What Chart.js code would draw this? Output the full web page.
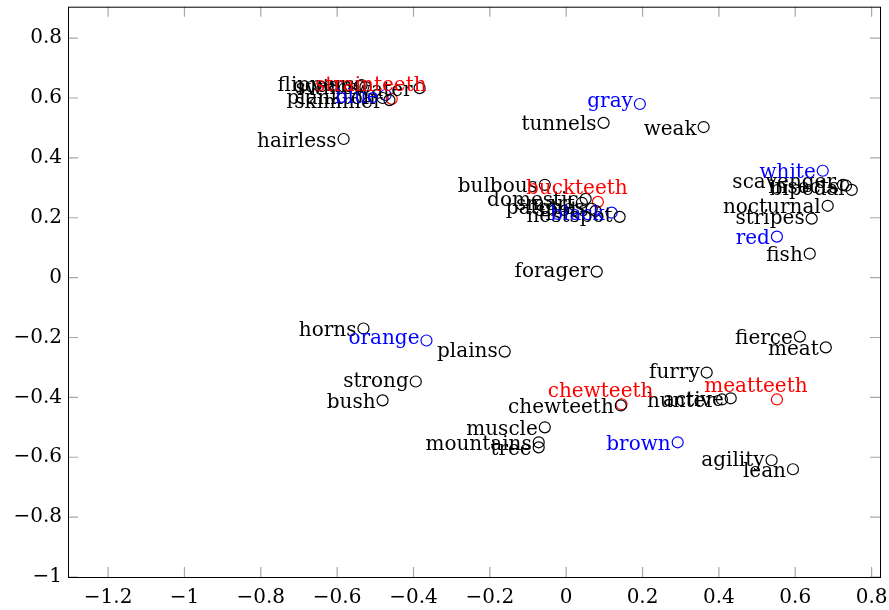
<!DOCTYPE html>
<html>
<head>
<meta charset="utf-8">
<script src="https://cdn.jsdelivr.net/npm/chart.js@4.4.0/dist/chart.umd.min.js"></script>
<style>
html, body { margin: 0; padding: 0; background: #fff; }
</style>
</head>
<body>
<canvas id="chart" width="889" height="610"></canvas>
<script>
// attribute words (black)
const wordNames = ["hairless", "flippers", "ocean", "swims", "plankton", "skimmer", "water",
  "tunnels", "weak", "bulbous", "smart", "domestic", "patches", "spots", "nestspot", "forager",
  "scavenger", "insects", "bipedal", "nocturnal", "stripes", "fish",
  "horns", "plains", "strong", "bush", "muscle", "mountains", "tree",
  "fierce", "meat", "furry", "chewteeth", "hunter", "active", "agility", "lean"];
const wordX = [-0.583, -0.536, -0.541, -0.526, -0.481, -0.463, -0.384,
  0.098, 0.36, -0.056, 0.041, 0.051, 0.067, 0.077, 0.14, 0.08,
  0.725, 0.733, 0.748, 0.685, 0.643, 0.638,
  -0.531, -0.161, -0.394, -0.481, -0.056, -0.072, -0.072,
  0.612, 0.68, 0.368, 0.143, 0.408, 0.431, 0.538, 0.594];
const wordY = [0.463, 0.643, 0.64, 0.637, 0.60, 0.593, 0.633,
  0.517, 0.503, 0.31, 0.25, 0.263, 0.23, 0.223, 0.203, 0.02,
  0.31, 0.307, 0.293, 0.24, 0.197, 0.08,
  -0.17, -0.247, -0.347, -0.41, -0.5, -0.55, -0.567,
  -0.197, -0.233, -0.317, -0.427, -0.407, -0.403, -0.61, -0.64];

// colour words (blue)
const colorNames = ["blue", "gray", "black", "white", "red", "orange", "brown"];
const colorX = [-0.473, 0.193, 0.119, 0.672, 0.552, -0.366, 0.292];
const colorY = [0.61, 0.58, 0.217, 0.357, 0.137, -0.21, -0.55];

// teeth words (red)
const teethNames = ["strainteeth", "buckteeth", "chewteeth", "meatteeth"];
const teethX = [-0.457, 0.083, 0.145, 0.552];
const teethY = [0.597, 0.253, -0.423, -0.407];

const xTicks = [-1.2, -1, -0.8, -0.6, -0.4, -0.2, 0, 0.2, 0.4, 0.6, 0.8];
const yTicks = [-1, -0.8, -0.6, -0.4, -0.2, 0, 0.2, 0.4, 0.6, 0.8];

const FONT = '"DejaVu Serif", serif';

function pts(xs, ys) {
  return xs.map((x, i) => ({ x: x, y: ys[i] }));
}

function fmt(v) {
  if (Math.abs(v) < 1e-9) return '0';
  return String(Math.round(v * 10) / 10).replace('-', '\u2212');
}

const labelPlugin = {
  id: 'labels',
  afterDatasetsDraw(chart) {
    const ctx = chart.ctx;
    ctx.save();
    ctx.font = '20px ' + FONT;
    chart.data.datasets.forEach((ds, di) => {
      const meta = chart.getDatasetMeta(di);
      meta.data.forEach((el, i) => {
        const txt = ds.names[i];
        const m = ctx.measureText(txt);
        const asc = m.actualBoundingBoxAscent, desc = m.actualBoundingBoxDescent;
        ctx.fillStyle = ds.borderColor;
        if (ds.above) {
          ctx.textAlign = 'center';
          ctx.fillText(txt, el.x - 21, el.y - 15 + (asc - desc) / 2);
        } else {
          ctx.textAlign = 'right';
          ctx.fillText(txt, el.x - 7, el.y + (asc - desc) / 2);
        }
      });
    });
    ctx.restore();
  }
};

const framePlugin = {
  id: 'frame',
  afterDraw(chart) {
    const ctx = chart.ctx;
    const a = chart.chartArea;
    const xs = chart.scales.x, ys = chart.scales.y;
    ctx.save();
    ctx.strokeStyle = '#a8a8a8';
    ctx.lineWidth = 1.2;
    ctx.beginPath();
    xTicks.forEach(v => {
      const px = xs.getPixelForValue(v);
      ctx.moveTo(px, a.bottom); ctx.lineTo(px, a.bottom - 10);
      ctx.moveTo(px, a.top); ctx.lineTo(px, a.top + 10);
    });
    yTicks.forEach(v => {
      const py = ys.getPixelForValue(v);
      ctx.moveTo(a.left, py); ctx.lineTo(a.left + 10, py);
      ctx.moveTo(a.right, py); ctx.lineTo(a.right - 10, py);
    });
    ctx.stroke();
    ctx.strokeStyle = '#000';
    ctx.lineWidth = 1;
    ctx.strokeRect(a.left + 0.5, a.top + 0.5, a.right - a.left, a.bottom - a.top);
    ctx.restore();
  }
};

function mkSet(names, xs, ys, color, above) {
  return {
    data: pts(xs, ys),
    names: names,
    above: above,
    borderColor: color,
    backgroundColor: 'rgba(0,0,0,0)',
    borderWidth: 1.2,
    pointStyle: 'circle',
    pointRadius: 5.5,
    showLine: false
  };
}

new Chart(document.getElementById('chart'), {
  type: 'scatter',
  data: {
    datasets: [
      mkSet(wordNames, wordX, wordY, '#000000', false),
      mkSet(colorNames, colorX, colorY, '#0000ff', false),
      mkSet(teethNames, teethX, teethY, '#ff0000', true)
    ]
  },
  options: {
    responsive: false,
    animation: false,
    devicePixelRatio: 1,
    events: [],
    layout: { padding: { top: 5, right: 9, left: 0, bottom: 0 } },
    plugins: { legend: { display: false }, tooltip: { enabled: false } },
    scales: {
      x: {
        type: 'linear',
        min: -1.305,
        max: 0.822,
        grid: { display: false, drawTicks: false },
        border: { display: false },
        afterBuildTicks: s => { s.ticks = xTicks.map(v => ({ value: v })); },
        afterFit: s => { s.height = 33; s.paddingLeft = 0; s.paddingRight = 0; },
        ticks: {
          color: '#000',
          font: { family: FONT, size: 20 },
          padding: 9,
          maxRotation: 0,
          autoSkip: false,
          callback: v => fmt(v)
        }
      },
      y: {
        type: 'linear',
        min: -1,
        max: 0.905,
        grid: { display: false, drawTicks: false },
        border: { display: false },
        afterBuildTicks: s => { s.ticks = yTicks.map(v => ({ value: v })); },
        afterFit: s => { s.width = 68; s.paddingTop = 0; s.paddingBottom = 0; },
        ticks: {
          color: '#000',
          font: { family: FONT, size: 20 },
          padding: 6,
          autoSkip: false,
          callback: v => fmt(v)
        }
      }
    }
  },
  plugins: [labelPlugin, framePlugin]
});
</script>
</body>
</html>
